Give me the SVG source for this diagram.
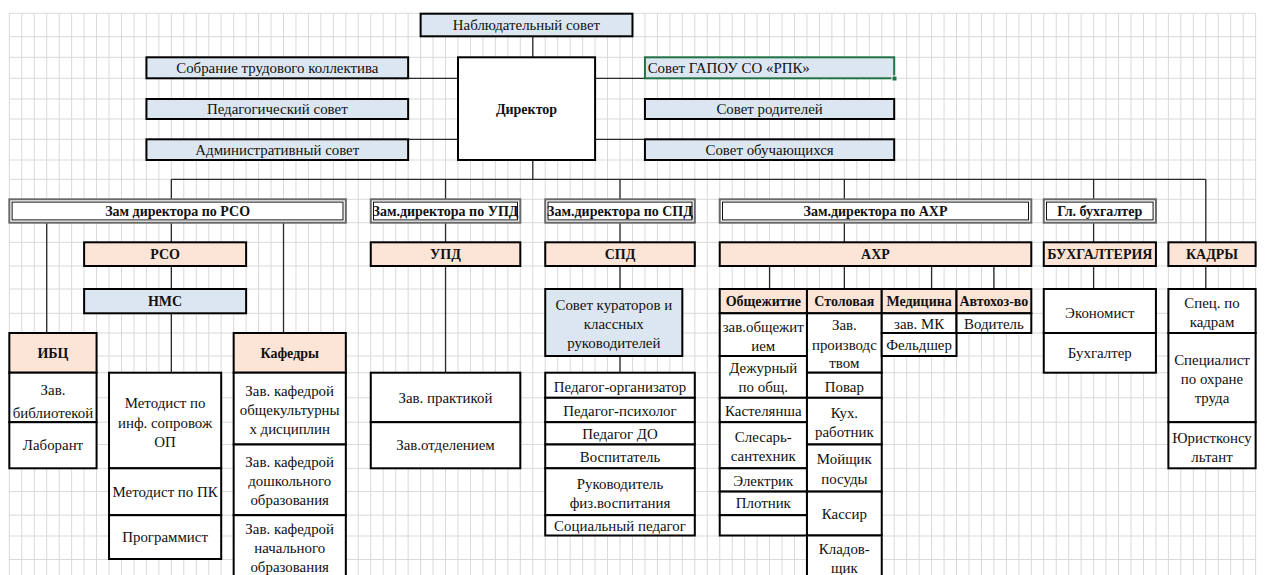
<svg xmlns="http://www.w3.org/2000/svg" width="1270" height="575" viewBox="0 0 1270 575">
<style>
.grid{stroke:#d9d9d9;stroke-width:1;fill:none}
.b{stroke:#000;stroke-width:2}
.w{fill:#fff}
.bl{fill:#dce6f1}
.pe{fill:#fce4d6}
.zo{fill:#fff;stroke:#6a6a6a;stroke-width:2}
.zi{fill:none;stroke:#111;stroke-width:1}
.c{stroke:#2a2a2a;stroke-width:1.3;fill:none}
text{font-family:"Liberation Serif","Times New Roman","DejaVu Serif",serif;font-size:14.9px;fill:#111;text-anchor:middle}
.t{font-weight:bold;font-size:14px}
.l{text-anchor:start}
</style>
<rect width="1270" height="575" fill="#fff"/>
<path class="grid" d="M9.33 13.3V575M21.79 13.3V575M34.26 13.3V575M46.72 13.3V575M59.18 13.3V575M71.65 13.3V575M84.11 13.3V575M96.57 13.3V575M109.03 13.3V575M121.5 13.3V575M133.96 13.3V575M146.42 13.3V575M158.89 13.3V575M171.35 13.3V575M183.81 13.3V575M196.28 13.3V575M208.74 13.3V575M221.2 13.3V575M233.66 13.3V575M246.13 13.3V575M258.59 13.3V575M271.05 13.3V575M283.52 13.3V575M295.98 13.3V575M308.44 13.3V575M320.91 13.3V575M333.37 13.3V575M345.83 13.3V575M358.29 13.3V575M370.76 13.3V575M383.22 13.3V575M395.68 13.3V575M408.15 13.3V575M420.61 13.3V575M433.07 13.3V575M445.54 13.3V575M458 13.3V575M470.46 13.3V575M482.92 13.3V575M495.39 13.3V575M507.85 13.3V575M520.31 13.3V575M532.78 13.3V575M545.24 13.3V575M557.7 13.3V575M570.17 13.3V575M582.63 13.3V575M595.09 13.3V575M607.55 13.3V575M620.02 13.3V575M632.48 13.3V575M644.94 13.3V575M657.41 13.3V575M669.87 13.3V575M682.33 13.3V575M694.8 13.3V575M707.26 13.3V575M719.72 13.3V575M732.18 13.3V575M744.65 13.3V575M757.11 13.3V575M769.57 13.3V575M782.04 13.3V575M794.5 13.3V575M806.96 13.3V575M819.43 13.3V575M831.89 13.3V575M844.35 13.3V575M856.81 13.3V575M869.28 13.3V575M881.74 13.3V575M894.2 13.3V575M906.67 13.3V575M919.13 13.3V575M931.59 13.3V575M944.06 13.3V575M956.52 13.3V575M968.98 13.3V575M981.44 13.3V575M993.91 13.3V575M1006.37 13.3V575M1018.83 13.3V575M1031.3 13.3V575M1043.76 13.3V575M1056.22 13.3V575M1068.69 13.3V575M1081.15 13.3V575M1093.61 13.3V575M1106.07 13.3V575M1118.54 13.3V575M1131 13.3V575M1143.46 13.3V575M1155.93 13.3V575M1168.39 13.3V575M1180.85 13.3V575M1193.32 13.3V575M1205.78 13.3V575M1218.24 13.3V575M1230.7 13.3V575M1243.17 13.3V575M1255.63 13.3V575
M9.33 13.3H1255.63M9.33 36.7H1255.63M9.33 57.3H1255.63M9.33 78.3H1255.63M9.33 99H1255.63M9.33 119H1255.63M9.33 139.3H1255.63M9.33 160H1255.63M9.33 179.3H1255.63M9.33 199.3H1255.63M9.33 222.7H1255.63M9.33 242.3H1255.63M9.33 266H1255.63M9.33 289H1255.63M9.33 313.3H1255.63M9.33 333H1255.63M9.33 356H1255.63M9.33 372.7H1255.63M9.33 397.8H1255.63M9.33 422.2H1255.63M9.33 444.5H1255.63M9.33 468.3H1255.63M9.33 491.6H1255.63M9.33 515.2H1255.63M9.33 536H1255.63M9.33 559.5H1255.63"/>

<g id="connectors">
<path class="c" d="M532.78 36.7V57.3M532.78 160V179.3M171.35 179.3H1205.78M171.35 179.3V199.3M445.54 179.3V199.3M620.02 179.3V199.3M844.35 179.3V199.3M1093.61 179.3V199.3M1205.78 179.3V242.3M408.15 78.3H458M408.15 139.3H458M595.09 78.3H644.94M595.09 139.3H644.94M46.72 222.7V333M171.35 222.7V242.3M171.35 266V289M171.35 313.3V372.7M283.52 222.7V333M445.54 222.7V242.3M445.54 266V372.7M620.02 222.7V242.3M620.02 266V289M620.02 356V372.7M844.35 222.7V242.3M769.57 266V289M844.35 266V289M931.59 266V289M993.91 266V289M1093.61 222.7V242.3M1093.61 266V289M1205.78 266V289"/>
</g>

<g id="n-nabl"><rect class="b bl" x="420.61" y="13.7" width="211.87" height="22.6"/><text x="526.5" y="30">Наблюдательный совет</text></g>
<g id="n-director"><rect class="b w" x="458" y="57.3" width="137.09" height="102.7"/><text class="t" x="526.5" y="114">Директор</text></g>
<g id="n-sobranie"><rect class="b bl" x="146.42" y="57.3" width="261.73" height="21"/><text x="277.3" y="73">Собрание трудового коллектива</text></g>
<g id="n-pedsovet"><rect class="b bl" x="146.42" y="99" width="261.73" height="20"/><text x="277.3" y="114">Педагогический совет</text></g>
<g id="n-admsovet"><rect class="b bl" x="146.42" y="139.3" width="261.73" height="20.7"/><text x="277.3" y="154.6">Административный совет</text></g>
<g id="n-gapou"><rect class="bl" x="644.94" y="57.3" width="249.26" height="21" stroke="#217346" stroke-width="2"/><rect x="892" y="76" width="5" height="5" fill="#217346" stroke="#fff" stroke-width="1"/><text class="l" x="647.7" y="73">Совет ГАПОУ СО «РПК»</text></g>
<g id="n-roditeli"><rect class="b bl" x="644.94" y="99" width="249.26" height="20"/><text x="769.6" y="114">Совет родителей</text></g>
<g id="n-obuch"><rect class="b bl" x="644.94" y="139.3" width="249.26" height="20.7"/><text x="769.6" y="154.6">Совет обучающихся</text></g>

<g id="n-zam-rso"><rect class="zo" x="9.33" y="199.3" width="336.5" height="23.4"/><rect class="zi" x="12.1" y="202.1" width="330.9" height="17.8"/><text class="t" x="177.6" y="216">Зам директора по РСО</text></g>
<g id="n-zam-upd"><rect class="zo" x="370.76" y="199.3" width="149.55" height="23.4"/><rect class="zi" x="373.5" y="202.1" width="144" height="17.8"/><text class="t" x="445.5" y="216">Зам.директора по УПД</text></g>
<g id="n-zam-spd"><rect class="zo" x="545.24" y="199.3" width="149.56" height="23.4"/><rect class="zi" x="548" y="202.1" width="144" height="17.8"/><text class="t" x="620" y="216">Зам.директора по СПД</text></g>
<g id="n-zam-ahr"><rect class="zo" x="719.72" y="199.3" width="311.58" height="23.4"/><rect class="zi" x="722.5" y="202.1" width="306" height="17.8"/><text class="t" x="875.5" y="216">Зам.директора по АХР</text></g>
<g id="n-glbuh"><rect class="zo" x="1043.76" y="199.3" width="112.17" height="23.4"/><rect class="zi" x="1046.5" y="202.1" width="106.6" height="17.8"/><text class="t" x="1099.8" y="216">Гл. бухгалтер</text></g>

<g id="n-rso"><rect class="b pe" x="84.11" y="242.3" width="162.02" height="23.7"/><text class="t" x="165.1" y="259">РСО</text></g>
<g id="n-nms"><rect class="b bl" x="84.11" y="289" width="162.02" height="24.3"/><text class="t" x="165.1" y="306">НМС</text></g>
<g id="n-upd"><rect class="b pe" x="370.76" y="242.3" width="149.55" height="23.7"/><text class="t" x="445.5" y="259">УПД</text></g>
<g id="n-spd"><rect class="b pe" x="545.24" y="242.3" width="149.56" height="23.7"/><text class="t" x="620" y="259">СПД</text></g>
<g id="n-ahr"><rect class="b pe" x="719.72" y="242.3" width="311.58" height="23.7"/><text class="t" x="875.5" y="259">АХР</text></g>
<g id="n-buh"><rect class="b pe" x="1043.76" y="242.3" width="112.17" height="23.7"/><text class="t" x="1099.8" y="259">БУХГАЛТЕРИЯ</text></g>
<g id="n-kadry"><rect class="b pe" x="1168.39" y="242.3" width="87.24" height="23.7"/><text class="t" x="1212" y="259">КАДРЫ</text></g>

<g id="n-ibc"><rect class="b pe" x="9.33" y="333" width="87.24" height="39.7"/><text class="t" x="53" y="358">ИБЦ</text>
<rect class="b w" x="9.33" y="372.7" width="87.24" height="49.5"/><text x="53" y="395">Зав.</text><text x="53" y="418.3">библиотекой</text>
<rect class="b w" x="9.33" y="422.2" width="87.24" height="46.1"/><text x="53" y="450.3">Лаборант</text></g>

<g id="n-metod"><rect class="b w" x="109.03" y="372.7" width="112.17" height="95.6"/><text x="165.1" y="408.3">Методист по</text><text x="165.1" y="427.7">инф. сопровож</text><text x="165.1" y="446.7">ОП</text>
<rect class="b w" x="109.03" y="468.3" width="112.17" height="46.9"/><text x="165.1" y="497">Методист по ПК</text>
<rect class="b w" x="109.03" y="515.2" width="112.17" height="43.8"/><text x="165.1" y="542">Программист</text></g>

<g id="n-kafedry"><rect class="b pe" x="233.66" y="333" width="112.17" height="39.7"/><text class="t" x="289.7" y="358">Кафедры</text>
<rect class="b w" x="233.66" y="372.7" width="112.17" height="71.8"/><text x="289.7" y="395.7">Зав. кафедрой</text><text x="289.7" y="415">общекультурны</text><text x="289.7" y="434.3">х дисциплин</text>
<rect class="b w" x="233.66" y="444.5" width="112.17" height="70.7"/><text x="289.7" y="466.7">Зав. кафедрой</text><text x="289.7" y="486">дошкольного</text><text x="289.7" y="505">образования</text>
<rect class="b w" x="233.66" y="515.2" width="112.17" height="75"/><text x="289.7" y="534">Зав. кафедрой</text><text x="289.7" y="553">начального</text><text x="289.7" y="572">образования</text></g>

<g id="n-upd-list"><rect class="b w" x="370.76" y="372.7" width="149.55" height="49.5"/><text x="445.5" y="402.5">Зав. практикой</text>
<rect class="b w" x="370.76" y="422.2" width="149.55" height="46.1"/><text x="445.5" y="450.3">Зав.отделением</text></g>

<g id="n-kuratory"><rect class="b bl" x="545.24" y="289" width="137.09" height="67"/><text x="613.8" y="310">Совет кураторов и</text><text x="613.8" y="329">классных</text><text x="613.8" y="347.7">руководителей</text></g>

<g id="n-spd-list"><rect class="b w" x="545.24" y="372.7" width="149.56" height="25.1"/><text x="620" y="392.3">Педагог-организатор</text>
<rect class="b w" x="545.24" y="397.8" width="149.56" height="24.4"/><text x="620" y="416">Педагог-психолог</text>
<rect class="b w" x="545.24" y="422.2" width="149.56" height="22.3"/><text x="620" y="439">Педагог ДО</text>
<rect class="b w" x="545.24" y="444.5" width="149.56" height="23.8"/><text x="620" y="462.3">Воспитатель</text>
<rect class="b w" x="545.24" y="468.3" width="149.56" height="46.9"/><text x="620" y="489">Руководитель</text><text x="620" y="507.7">физ.воспитания</text>
<rect class="b w" x="545.24" y="515.2" width="149.56" height="20.3"/><text x="620" y="531">Социальный педагог</text></g>

<g id="n-obshch"><rect class="b pe" x="719.72" y="289" width="87.24" height="24.3"/><text class="t" x="763.3" y="306">Общежитие</text>
<rect class="b w" x="719.72" y="313.3" width="87.24" height="42.7"/><text x="763.3" y="331.7">зав.общежит</text><text x="763.3" y="350.7">ием</text>
<rect class="b w" x="719.72" y="356" width="87.24" height="41.8"/><text x="763.3" y="373.3">Дежурный</text><text x="763.3" y="392.3">по общ.</text>
<rect class="b w" x="719.72" y="397.8" width="87.24" height="24.4"/><text x="763.3" y="416">Кастелянша</text>
<rect class="b w" x="719.72" y="422.2" width="87.24" height="46.1"/><text x="763.3" y="442.3">Слесарь-</text><text x="763.3" y="461">сантехник</text>
<rect class="b w" x="719.72" y="468.3" width="87.24" height="23.3"/><text x="763.3" y="485.7">Электрик</text>
<rect class="b w" x="719.72" y="491.6" width="87.24" height="23.6"/><text x="763.3" y="508.3">Плотник</text>
<rect class="b w" x="719.72" y="515.2" width="87.24" height="20.3"/></g>

<g id="n-stolovaya"><rect class="b pe" x="806.96" y="289" width="74.78" height="24.3"/><text class="t" x="844.35" y="306">Столовая</text>
<rect class="b w" x="806.96" y="313.3" width="74.78" height="59.4"/><text x="844.35" y="330">Зав.</text><text x="844.35" y="350">производс</text><text x="844.35" y="368.3">твом</text>
<rect class="b w" x="806.96" y="372.7" width="74.78" height="25.1"/><text x="844.35" y="392.3">Повар</text>
<rect class="b w" x="806.96" y="397.8" width="74.78" height="46.7"/><text x="844.35" y="417.7">Кух.</text><text x="844.35" y="437.3">работник</text>
<rect class="b w" x="806.96" y="444.5" width="74.78" height="47.1"/><text x="844.35" y="464.3">Мойщик</text><text x="844.35" y="484">посуды</text>
<rect class="b w" x="806.96" y="491.6" width="74.78" height="43.9"/><text x="844.35" y="519.3">Кассир</text>
<rect class="b w" x="806.96" y="535.5" width="74.78" height="55"/><text x="844.35" y="554.3">Кладов-</text><text x="844.35" y="573.3">щик</text></g>

<g id="n-medicina"><rect class="b pe" x="881.74" y="289" width="74.78" height="24.3"/><text class="t" x="919.1" y="306">Медицина</text>
<rect class="b w" x="881.74" y="313.3" width="74.78" height="19.7"/><text x="919.1" y="328.5">зав. МК</text>
<rect class="b w" x="881.74" y="333" width="74.78" height="23"/><text x="919.1" y="350">Фельдшер</text></g>

<g id="n-avto"><rect class="b pe" x="956.52" y="289" width="74.78" height="24.3"/><text class="t" x="993.9" y="306">Автохоз-во</text>
<rect class="b w" x="956.52" y="313.3" width="74.78" height="19.7"/><text x="993.9" y="328.5">Водитель</text></g>

<g id="n-buh-list"><rect class="b w" x="1043.76" y="289" width="112.17" height="44"/><text x="1099.8" y="317.5">Экономист</text>
<rect class="b w" x="1043.76" y="333" width="112.17" height="39.7"/><text x="1099.8" y="358.4">Бухгалтер</text></g>

<g id="n-kadry-list"><rect class="b w" x="1168.39" y="289" width="87.24" height="44"/><text x="1212" y="308.3">Спец. по</text><text x="1212" y="327.3">кадрам</text>
<rect class="b w" x="1168.39" y="333" width="87.24" height="89.2"/><text x="1212" y="365">Специалист</text><text x="1212" y="384.3">по охране</text><text x="1212" y="403.3">труда</text>
<rect class="b w" x="1168.39" y="422.2" width="87.24" height="46.1"/><text x="1212" y="442.7">Юристконсу</text><text x="1212" y="461.7">льтант</text></g>
</svg>
